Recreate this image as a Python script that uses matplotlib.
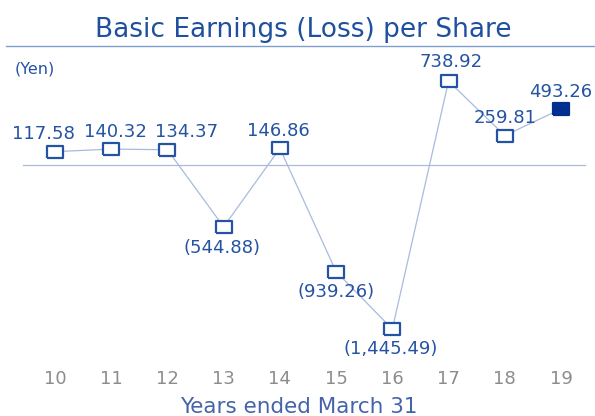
import matplotlib.pyplot as plt
from matplotlib.lines import Line2D

years = [10, 11, 12, 13, 14, 15, 16, 17, 18, 19]
eps = [117.58, 140.32, 134.37, -544.88, 146.86, -939.26, -1445.49, 738.92, 259.81, 493.26]
tick_labels = ['10', '11', '12', '13', '14', '15', '16', '17', '18', '19']

blue = '#2453a3'
navy = '#00308f'
line_col = '#a8bbdc'

# flat rectangle marker like the original
rect = [(-1, -0.74), (1, -0.74), (1, 0.74), (-1, 0.74), (-1, -0.74)]


def fmt(v):
    if v < 0:
        return '({:,.2f})'.format(-v)
    return '{:,.2f}'.format(v)


fig = plt.figure(figsize=(5.95, 4.16), dpi=100)
ax = fig.add_axes([0, 0, 1, 1])
ax.set_axis_off()

# map data to pixel layout of the original
px = 506 / 9
ax.set_xlim(10 - 55 / px, 19 + 34 / px)
scale = 0.1135
ax.set_ylim(-(416 - 165) / scale, 165 / scale)

ax.axhline(0, xmin=23 / 595, xmax=585 / 595, color=line_col, lw=0.9)
ax.plot(years, eps, color=line_col, lw=0.9, zorder=2)
ax.plot(years[:-1], eps[:-1], marker=rect, ls='none', ms=11.5, mfc='white', mec=blue,
        mew=1.6, zorder=3)
ax.plot(years[-1:], eps[-1:], marker=rect, ls='none', ms=11.5, mfc=navy, mec=navy,
        mew=1.6, zorder=3)

# label offsets in points (dx, dy)
offsets = {10: (-8, 12.5), 11: (3, 12.5), 12: (14, 12.5), 13: (-1, -15), 14: (-1, 12.5),
           15: (0, -15), 16: (-1, -14.5), 17: (2, 14), 18: (0, 12.5), 19: (0, 12.5)}
for x, v in zip(years, eps):
    dx, dy = offsets[x]
    ax.annotate(fmt(v), (x, v), xytext=(dx, dy), textcoords='offset points',
                ha='center', va='center', fontsize=13, color=blue)

for x, t in zip(years, tick_labels):
    ax.text(x, -(384 - 165) / scale, t, ha='center', va='baseline', fontsize=13,
            color='#8c8c8c')

fig.text(299 / 595, 1 - 413 / 416, 'Years ended March 31', ha='center', va='baseline',
         fontsize=15.5, color='#4463aa')
fig.text(303 / 595, 1 - 37 / 416, 'Basic Earnings (Loss) per Share', ha='center',
         va='baseline', fontsize=19, color='#1f4f9f')
fig.text(15 / 595, 1 - 73 / 416, '(Yen)', ha='left', va='baseline', fontsize=11.5,
         color=blue)
fig.add_artist(Line2D([6 / 595, 1], [1 - 46 / 416, 1 - 46 / 416], color='#7f9fd0', lw=1))

fig.savefig('out.png', dpi=100)
